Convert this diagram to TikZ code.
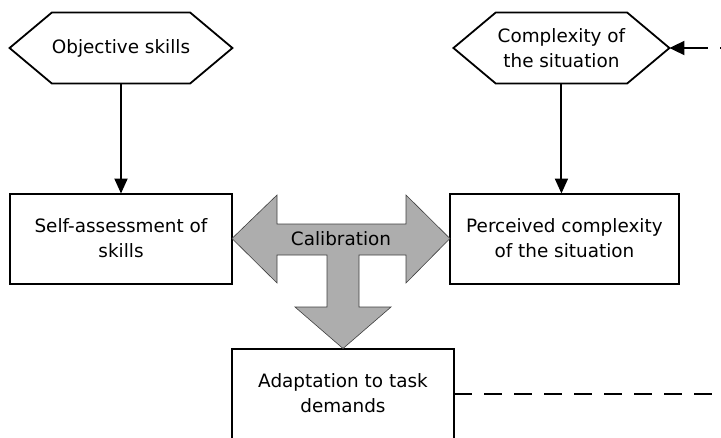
\documentclass[tikz,border=0pt]{standalone}
\usepackage{fontspec}
\setmainfont{DejaVu Sans}
\usetikzlibrary{shapes.symbols, arrows.meta, positioning, calc}
\definecolor{calgray}{gray}{0.68}

\begin{document}
\begin{tikzpicture}[
    x=1pt, y=1pt,
    given/.style={signal, signal to=west and east, signal pointer angle=80, draw, line width=1.8pt, minimum width=216pt, minimum height=71pt, inner sep=0pt, outer sep=0pt, align=center, font=\fontsize{18.4pt}{25pt}\selectfont},
    box/.style={rectangle, draw, line width=2pt, minimum width=222pt, minimum height=90pt, inner sep=0pt, outer sep=0pt, align=center, font=\fontsize{18.4pt}{25pt}\selectfont},
    arrow/.style={-{Triangle[length=15pt, width=13pt]}, line width=2pt},
    link/.style={line width=2pt, dash pattern=on 18pt off 12pt}
]
    \useasboundingbox (0,0) rectangle (721,-437);
    \clip (0,0) rectangle (721,-437);

    \node[given] (objective) at (121,-48) {Objective skills};
    \node[given, right=221pt of objective] (situation) {Complexity of\\the situation};
    \node[box, below=110pt of objective] (skill) {Self-assessment of\\skills};
    \node[box, minimum width=229pt, below=110pt of situation, xshift=3pt] (perceived) {Perceived complexity\\of the situation};
    \node[box, below right=65pt and 0pt of skill] (adapt) {Adaptation to task\\demands};

    % calibration arrow
    \filldraw[fill=calgray, draw=black!75, line width=0.6pt]
        (skill.east) -- (277,-195) -- (277,-224) -- (406,-224) -- (406,-195)
        -- (perceived.west) -- (406,-283) -- (406,-255) -- (359,-255) -- (359,-307)
        -- (391,-307) -- (adapt.north) -- (295,-307) -- (327,-307) -- (327,-255)
        -- (277,-255) -- (277,-283) -- cycle;
    \node[font=\fontsize{18.4pt}{25pt}\selectfont] (calib) at (341,-239) {Calibration};

    \draw[arrow] (objective.south) -- (skill.north);
    \draw[arrow] (situation.south) -- (situation.south |- perceived.north);

    % feedback from adaptation back to the situation
    \coordinate[right=299pt of adapt.east] (bend);
    \coordinate[right=36pt of situation.east] (entry);
    \draw[link] (adapt.east) -- (bend) |- (entry);
    \draw[arrow, -{Triangle[length=15pt, width=14pt]}] (entry) -- (situation.east);
\end{tikzpicture}
\end{document}
